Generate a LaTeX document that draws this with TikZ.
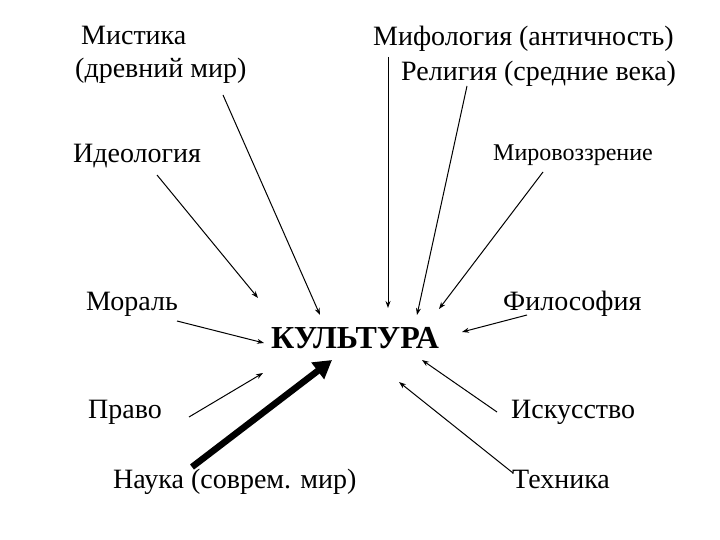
\documentclass[tikz,border=0pt]{standalone}
\usepackage{fontspec}
\newfontfamily\tnr{LiberationSerif}[Extension=.ttf,UprightFont=*-Regular,BoldFont=*-Bold]
\usetikzlibrary{arrows.meta}
\begin{document}
\begin{tikzpicture}[x=1pt,y=-1pt,
  lbl/.style={anchor=base west,inner sep=0pt,font=\tnr\fontsize{28}{30}\selectfont},
  small/.style={anchor=base west,inner sep=0pt,font=\tnr\fontsize{24}{26}\selectfont},
  big/.style={anchor=base west,inner sep=0pt,font=\tnr\fontsize{32}{34}\selectfont\bfseries},
  conn/.style={line width=1pt,-{Stealth[length=7pt,width=5pt]}},
  thick/.style={line width=6.5pt,-{Triangle[length=18pt,width=20pt]}}]
\useasboundingbox[fill=white] (0,0) rectangle (720,540);
% labels
\node[lbl] (mist) at (81,45) {Мистика};
\node[lbl] (mist2) at (75,78) {(древний мир)};
\node[lbl] (mif) at (373,46) {Мифология (античность)};
\node[lbl] (rel) at (401,81) {Религия (средние века)};
\node[lbl] (ideo) at (73,163) {Идеология};
\node[small] (mirov) at (493,161) {Мировоззрение};
\node[lbl] (moral) at (86,310) {Мораль};
\node[lbl] (filos) at (503,310) {Философия};
\node[big] (kult) at (271,348) {КУЛЬТУРА};
\node[lbl] (pravo) at (88,418) {Право};
\node[lbl] (isk) at (511,418) {Искусство};
\node[lbl] (nauka) at (113,488) {Наука (соврем. мир)};
\node[lbl] (tech) at (512,488) {Техника};
% connector end points
\coordinate (s1) at (223,95);  \coordinate (e1) at (320,315);
\coordinate (s2) at (388,57);  \coordinate (e2) at (388,308);
\coordinate (s3) at (467,86);  \coordinate (e3) at (417,315);
\coordinate (s4) at (157,175); \coordinate (e4) at (258,298);
\coordinate (s5) at (543,172); \coordinate (e5) at (439,309);
\coordinate (s6) at (177,321); \coordinate (e6) at (264,343);
\coordinate (s7) at (527,315); \coordinate (e7) at (462,332);
\coordinate (s8) at (189,417); \coordinate (e8) at (263,373);
\coordinate (s9) at (192,467); \coordinate (e9) at (332,360);
\coordinate (s10) at (497,412); \coordinate (e10) at (422,360);
\coordinate (s11) at (513,473); \coordinate (e11) at (399,382);
\draw[conn] (s1) -- (e1);
\draw[conn] (s2) -- (e2);
\draw[conn] (s3) -- (e3);
\draw[conn] (s4) -- (e4);
\draw[conn] (s5) -- (e5);
\draw[conn] (s6) -- (e6);
\draw[conn] (s7) -- (e7);
\draw[conn] (s8) -- (e8);
\draw[thick] (s9) -- (e9);
\draw[conn] (s10) -- (e10);
\draw[conn] (s11) -- (e11);
\end{tikzpicture}
\end{document}
